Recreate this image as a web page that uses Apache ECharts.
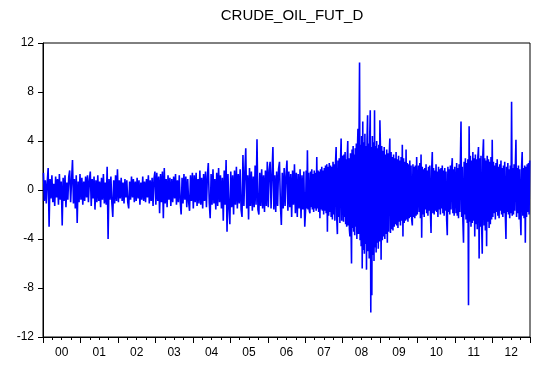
<!DOCTYPE html>
<html>
<head>
<meta charset="utf-8">
<script src="https://cdn.jsdelivr.net/npm/echarts@6/dist/echarts.min.js"></script>
<style>
  html, body { margin: 0; padding: 0; background: #fff; }
  #main { width: 538px; height: 366px; }
</style>
</head>
<body>
<div id="main"></div>
<script>
// year labels under the axis
var yearLabels = ['00', '01', '02', '03', '04', '05', '06', '07', '08', '09', '10', '11', '12'];
var yTicks = [-12, -8, -4, 0, 4, 8, 12];

var y2000 = [1.4, -0.9, 0.8, -1.1, 0.6, 1.8, -3.0, 0.9, -0.7, 1.2, -1.0, 0.5, -1.3, 1.1, -0.6, 0.9, -1.2, 1.3, -0.8, 0.7,
    -2.9, 1.0, -0.9, 1.2, -1.4, 0.6, -0.8, 1.1, 1.6, -1.0, 0.8, 2.45, -1.1, 0.9, -1.5, 1.2, -2.7, 0.7, -1.0, 1.3];
var y2001 = [-0.8, 1.0, -1.2, 0.7, -0.9, 1.1, -0.6, 1.2, -1.0, 0.8, 1.5, -1.3, 0.9, -0.7, 1.1, -1.6, 0.8, -1.0, 1.2, -0.9,
    0.7, -1.4, 1.0, -0.8, 1.3, -1.1, 0.6, -1.2, 1.9, -4.0, 0.9, -0.8, 1.1, -1.0, -2.2, 0.8, -1.1, 1.2, -0.9, 1.7];
var y2002 = [-1.0, 0.8, -0.7, 1.0, -0.9, 0.6, -1.1, 0.9, -0.6, 0.8, -1.0, -1.5, 0.7, -0.8, 1.1, -0.6, 0.9, -1.0, 0.7, -0.9,
    1.0, -0.7, 0.8, -1.2, 0.6, -0.8, 1.1, -0.9, 0.7, -1.0, 0.9, -0.6, 1.2, -1.1, 0.8, -0.9, 1.0, -1.3, 0.9, 1.5];
var y2003 = [-1.2, 1.4, -0.9, 1.1, -1.9, 1.3, -1.0, 1.5, -2.3, 1.8, -1.1, 0.9, -1.4, 1.2, -0.8, 1.0, -1.3, 0.9, -1.0, 1.1,
    -0.7, 1.3, -1.2, 0.8, -1.0, 1.2, -0.9, -2.0, 1.0, -1.1, 1.3, -0.8, 1.1, -1.4, 0.9, -1.0, -1.7, 1.2, -0.9, 1.4];
var y2004 = [-1.5, 1.2, -1.0, 1.4, -1.3, 0.9, -1.1, 1.6, -1.2, 1.0, -1.5, 1.3, -0.9, 1.5, -1.4, 1.1, 2.2, -1.0, -2.3, 1.3,
    -1.2, 1.7, -1.1, 0.9, -1.6, 1.4, -1.3, 1.8, -1.0, 1.2, -1.5, 1.0, -2.5, 1.6, -1.2, 2.45, -3.4, 1.3, -1.4, -2.8];
var y2005 = [1.5, -1.4, 1.2, -2.0, 1.6, -1.2, 1.9, -1.5, 1.3, -1.1, 1.7, -1.6, -2.2, 2.85, -1.3, 1.4, 3.4, -1.5, 1.2, -2.4,
    1.8, -1.3, 1.5, -1.7, 1.1, -1.4, 2.0, -1.2, 4.15, -1.6, -2.0, 1.4, -1.3, 1.7, -1.5, 1.2, -1.8, 1.6, -1.3, 2.3];
var y2006 = [-1.4, 1.6, 2.3, -1.5, 1.3, 3.5, -1.6, 1.2, -1.8, 1.5, -1.3, 1.7, 2.3, -1.2, -2.85, 1.4, -1.5, 1.8, -1.3, 1.2,
    2.4, -1.7, 1.5, -1.4, 1.3, -2.2, 1.6, -1.2, 2.1, -1.9, 1.4, -2.2, 1.3, -1.5, 1.7, -2.3, 1.2, -1.6, 1.5, -3.0];
var y2007 = [-1.7, 1.6, -1.5, 3.25, -1.6, 1.4, -1.7, -1.9, 1.5, -1.4, 1.7, -1.6, 1.3, -1.8, 1.6, -1.5, 1.4, -1.7, 2.7, -1.5,
    1.6, -1.8, 1.5, -2.3, 1.7, -1.6, 1.9, -1.7, 1.6, -2.0, 1.8, -1.7, 2.0, -1.9, 2.1, -3.4, 1.9, -2.1, 2.2, -1.8,
    2.0, -2.2, 1.9, -2.4, 2.3, -2.0, 2.1, -2.5, 2.2, 3.5, -2.3, -3.6, 2.4, -2.2, 2.6, -2.7, 2.3, 4.2, -2.5, 2.8];
var y2008 = [2.4, -2.6, 2.9, -2.2, 3.1, -2.8, 2.5, -3.0, 2.7, 4.0, -2.9, 2.6, -3.2, -3.8, 3.0, -2.7, -6.0, 3.3, -3.1, 3.6,
    -3.4, 2.9, -3.7, 3.4, -3.0, 3.8, -4.0, 3.2, 5.0, -3.6, 4.2, 10.4, -4.1, 3.7, -4.6, 4.4, -6.4, 5.6, -4.9, 3.9,
    -5.2, 4.6, -4.4, 3.6, -6.5, 4.1, 6.1, -5.0, 3.8, -5.6, 4.3, 6.5, -10.0, 3.5, -8.6, 4.4, -5.3, 3.9, -5.8, 6.5,
    -4.7, 3.6, -5.1, 4.0, -4.3, 3.4, -4.8, 3.7, -4.2, 5.7];
var y2009 = [3.4, -5.7, 3.6, -4.1, 3.2, -3.8, 3.5, -4.0, 2.9, -3.6, 3.3, -4.3, 3.0, -3.4, 2.8, 4.2, -3.5, 3.1, -3.2, 2.7,
    -3.3, 2.9, -3.0, 2.6, -2.8, 3.1, -2.9, 2.5, -3.1, 2.8, -2.6, 2.4, -2.9, 2.7, -2.5, 3.7, -3.8, 2.6, -2.7, 2.3,
    -2.5, 3.3, -2.4, 2.2, -2.6, 2.1, -2.3, 2.4, -2.2, 2.0, -2.4, -2.9, 2.1, -2.2, 1.9, -2.3, 2.0, -2.1, 2.7, -2.0];
var y2010 = [-2.1, 2.0, -1.8, 2.2, -2.3, 2.9, -3.9, 1.9, -2.0, 1.7, -2.2, 1.8, -1.6, 2.1, -1.9, 1.6, -2.1, 1.9, -1.7, 2.0,
    -1.8, -3.5, 1.7, 3.1, -1.9, 1.8, -2.0, 1.6, -1.7, 2.1, -1.8, 1.5, -2.2, 1.9, -1.6, 1.7, -2.0, 1.8, -1.5, 2.0,
    -1.9, 1.6, -2.1, 1.8, -1.7, 1.5, -2.4, -3.7, 1.9, -1.8, 1.7, -2.0, 2.0, -1.6, 1.8, 2.6, -1.9, 1.7, -2.1, 1.9];
var y2011 = [2.0, -1.9, 2.2, -2.1, 1.8, -2.3, 2.1, -1.8, 2.4, 5.6, -2.2, 1.9, -2.5, -4.3, 2.3, -2.0, 2.6, -2.4, 2.2, -2.7,
    2.5, -9.4, 5.2, -2.6, 2.8, -3.0, 2.4, -2.7, 3.1, -2.5, 2.6, -3.8, 2.9, -2.8, 2.5, -3.2, 2.7, 3.5, -5.6, 2.6,
    -3.0, 2.8, -2.7, -5.2, 2.9, 4.15, -2.9, 2.6, -3.3, 2.4, -4.6, 2.8, -2.6, 2.5, -3.1, 2.3, -2.8, 2.7, -2.4, 4.1];
var y2012 = [-2.2, 2.3, -1.9, 2.0, -2.4, 2.2, -1.8, 2.5, -2.1, 1.9, -2.3, 2.1, -1.7, 2.4, -2.0, 1.8, -2.2, 2.0, -1.9, 2.3,
    -2.1, -4.0, 1.9, -1.8, 2.2, -2.0, 1.7, -2.3, 2.0, -1.9, 7.2, -2.1, 1.8, -2.0, 2.1, -1.7, 1.9, 4.1, -2.2, 1.8,
    -1.9, 2.0, -2.4, 1.7, -2.0, -3.7, 1.9, 3.1, -2.1, 1.8, -2.3, 2.0, -4.3, 1.9, -2.2, 2.1, -1.8, 2.2, -2.0, 2.4];

var years = [y2000, y2001, y2002, y2003, y2004, y2005, y2006, y2007, y2008, y2009, y2010, y2011, y2012];

// spread each year's values evenly over that year
var points = [];
years.forEach(function (vals, k) {
    vals.forEach(function (v, i) {
        points.push([2000 + k + (i + 0.5) / vals.length, v]);
    });
});

var font = 'Liberation Sans, Arial, sans-serif';

var chart = echarts.init(document.getElementById('main'));
chart.setOption({
    animation: false,
    backgroundColor: '#fff',
    title: {
        text: 'CRUDE_OIL_FUT_D',
        left: 287,
        top: 3,
        textAlign: 'center',
        textStyle: {
            fontFamily: font,
            fontSize: 15,
            fontWeight: 'normal',
            color: '#000'
        }
    },
    grid: {
        left: 43,
        right: 8,
        top: 43,
        bottom: 29,
        show: true,
        borderColor: '#000',
        borderWidth: 1
    },
    xAxis: [
        {
            type: 'value',
            position: 'bottom',
            min: 2000,
            max: 2013,
            interval: 1,
            axisLine: { onZero: false, lineStyle: { color: '#000', width: 1 } },
            axisTick: { show: true, length: 6, lineStyle: { color: '#000' } },
            minorTick: { show: true, splitNumber: 4, length: 3, lineStyle: { color: '#000' } },
            axisLabel: { show: false },
            splitLine: { show: false }
        },
        {
            type: 'category',
            position: 'bottom',
            data: yearLabels,
            boundaryGap: true,
            axisLine: { show: false, onZero: false },
            axisTick: { show: false },
            splitLine: { show: false },
            axisLabel: {
                margin: 10,
                fontFamily: font,
                fontSize: 12,
                color: '#000'
            }
        }
    ],
    yAxis: {
        type: 'value',
        min: yTicks[0],
        max: yTicks[yTicks.length - 1],
        interval: 4,
        axisLine: { show: true, onZero: false, lineStyle: { color: '#000', width: 1 } },
        axisTick: { show: true, length: 5, lineStyle: { color: '#000' } },
        splitLine: { show: false },
        axisLabel: {
            margin: 9,
            fontFamily: font,
            fontSize: 12,
            color: '#000'
        }
    },
    series: [{
        type: 'line',
        xAxisIndex: 0,
        data: points,
        showSymbol: false,
        symbol: 'none',
        sampling: null,
        lineStyle: { color: '#0000ff', width: 1.6 },
        itemStyle: { color: '#0000ff' }
    }]
});
window.addEventListener('resize', function () {
    chart.resize();
});
</script>
</body>
</html>
